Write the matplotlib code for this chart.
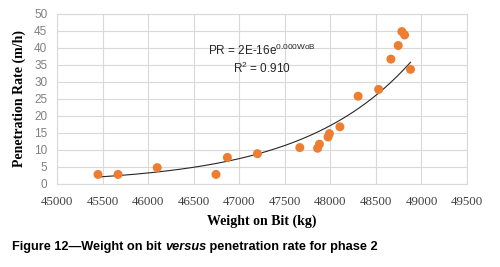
import numpy as np
import matplotlib
matplotlib.use("Agg")
import matplotlib.pyplot as plt

wob = [45450, 45670, 46100, 46745, 46870, 47200, 47665, 47860, 47880, 47975, 47990,
       48105, 48305, 48530, 48665, 48745, 48785, 48815, 48880]
pr = [2.8, 2.8, 4.8, 2.8, 7.8, 8.9, 10.7, 10.5, 11.7, 13.8, 14.8,
      16.8, 25.8, 27.8, 36.7, 40.7, 44.8, 43.8, 33.7]
xticks = list(range(45000, 49501, 500))
yticks = list(range(0, 51, 5))
equation = "PR = 2E-16e$^{\\mathregular{0.000WoB}}$"
r2 = "R$^{\\mathregular{2}}$ = 0.910"

fig = plt.figure(figsize=(5.0, 2.67), dpi=100)
ax = fig.add_axes([0.114, 0.311, 0.820, 0.637])

ax.set_xlim(45000, 49500)
ax.set_ylim(0, 50)
ax.set_xticks(xticks)
ax.set_yticks(yticks)
ax.grid(True, color="#D9D9D9", linewidth=0.8)
ax.set_axisbelow(True)
for s in ax.spines.values():
    s.set_color("#D9D9D9")
    s.set_linewidth(0.8)
ax.tick_params(axis="x", length=0, pad=9)
ax.tick_params(axis="y", length=0, pad=7)
for lab in ax.get_xticklabels():
    lab.set_fontfamily("Liberation Serif")
    lab.set_fontsize(9.3)
    lab.set_color("#404040")
for lab in ax.get_yticklabels():
    lab.set_fontfamily("Liberation Sans")
    lab.set_fontsize(8.5)
    lab.set_color("#808080")

# exponential trend line fitted to the data
x = np.array(wob, dtype=float)
y = np.array(pr, dtype=float)
b, lna = np.polyfit(x, np.log(y), 1)
xs = np.linspace(x.min(), x.max(), 200)
ax.plot(xs, np.exp(lna + b * xs), color="#262626", linewidth=0.8, zorder=2)

ax.scatter(wob, pr, s=42, color="#ED7D31", edgecolors="none", zorder=3)

ax.text(47250, 39.4, equation, ha="center", va="center", fontsize=8.5,
        family="Liberation Sans", color="#262626")
ax.text(47250, 34.1, r2, ha="center", va="center", fontsize=8.5,
        family="Liberation Sans", color="#262626")

ax.set_xlabel("Weight on Bit (kg)", fontfamily="Liberation Serif", fontweight="bold",
              fontsize=10, labelpad=4)
ax.set_ylabel("Penetration Rate (m/h)", fontfamily="Liberation Serif", fontweight="bold",
              fontsize=10, labelpad=6)

fs = 9.2
ycap = 0.075
t1 = fig.text(0.024, ycap, "Figure 12\u2014Weight on bit ", fontsize=fs, fontweight="bold",
              family="Liberation Sans", ha="left", va="center")
fig.canvas.draw()
x2 = t1.get_window_extent().x1 / fig.bbox.width
t2 = fig.text(x2, ycap, "versus", fontsize=fs, fontweight="bold", style="italic",
              family="Liberation Sans", ha="left", va="center")
fig.canvas.draw()
x3 = t2.get_window_extent().x1 / fig.bbox.width
fig.text(x3, ycap, " penetration rate for phase 2", fontsize=fs, fontweight="bold",
         family="Liberation Sans", ha="left", va="center")

fig.savefig("out.png", dpi=100)
